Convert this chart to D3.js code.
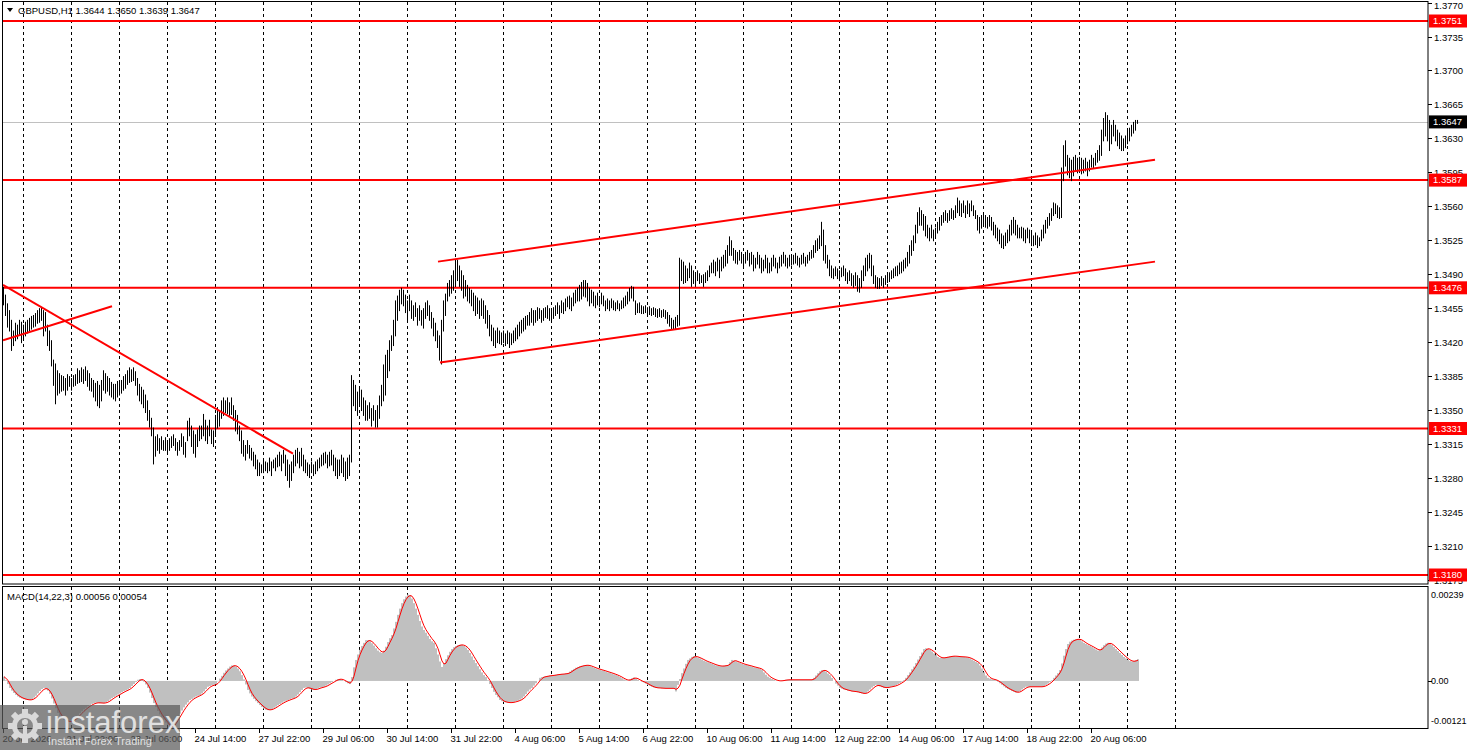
<!DOCTYPE html>
<html>
<head>
<meta charset="utf-8">
<script src="https://cdn.jsdelivr.net/npm/d3@7"></script>
<style>
  html, body { margin: 0; padding: 0; background: #fff; }
  svg { display: block; }
  text { font-family: "Liberation Sans", Arial, sans-serif; font-size: 9.5px; fill: #000; }
</style>
</head>
<body>
<svg id="chart" width="1468" height="750"></svg>
<script>
// GBPUSD H1 bars, in pips above 1.3000
const highs = [
  477,469,460,453,443,432,440,438,443,441,438,441,443,445,447,448,450,453,455,456,453,451,438,432,422,402,398,
  391,388,386,385,383,387,385,383,386,387,393,391,394,392,395,391,388,383,381,378,380,376,381,391,388,385,383,379,377,377,380,379,381,385,387,391,394,392,394,390,383,377,374,371,366,360,350,342,332,
  323,325,321,323,319,322,317,321,323,325,321,317,319,326,323,317,339,342,334,329,325,330,334,334,346,340,334,340,330,329,345,353,350,360,363,360,363,358,363,355,350,345,334,329,319,314,319,
  314,311,307,304,299,296,294,299,297,296,301,297,299,301,304,307,304,309,304,299,294,297,304,309,311,307,311,304,299,296,294,297,294,297,299,301,304,306,307,304,307,309,304,301,299,299,304,301,297,301,304,386,
  381,376,369,373,371,363,360,355,358,352,355,350,355,365,376,397,407,412,422,427,443,463,468,474,476,474,469,463,469,463,458,461,455,458,453,455,461,463,458,451,445,440,432,427,443,463,470,481,484,489,
  494,502,505,499,494,489,484,479,476,474,471,468,466,463,465,463,458,453,448,438,435,432,435,432,430,432,429,432,430,429,
  432,435,438,441,443,445,447,448,451,455,453,453,456,455,453,455,456,458,455,453,456,458,461,458,463,461,465,467,468,466,
  471,474,476,479,482,484,484,481,476,474,472,468,471,467,471,468,463,465,463,465,463,461,463,460,463,466,468,472,476,478,
  477,463,460,461,458,457,458,456,457,455,456,455,454,455,453,454,453,451,448,445,443,446,448,
  507,505,503,499,496,502,499,494,492,494,491,489,490,492,494,499,502,505,503,507,505,508,510,515,520,529,525,517,515,513,
  515,513,510,513,515,512,513,510,507,513,510,507,505,510,507,502,507,510,507,502,508,510,513,510,507,510,508,510,512,509,
  507,510,512,508,510,513,515,520,525,527,530,544,536,520,510,505,499,496,498,496,494,497,499,496,492,494,491,489,492,489,
  486,494,499,507,510,512,510,499,489,487,486,488,486,489,491,492,494,496,498,499,502,503,
  505,507,513,520,525,530,541,554,559,556,552,550,541,538,541,536,538,544,549,551,554,556,553,556,558,556,561,569,566,563,
  566,561,566,563,566,561,556,551,549,551,553,551,549,551,549,544,541,538,536,532,530,533,536,541,546,549,546,541,538,539,
  538,536,538,536,533,530,533,530,528,536,541,546,549,553,558,564,563,561,559,600,623,628,613,610,608,611,613,610,611,610,
  608,610,606,608,613,610,615,618,623,639,651,657,654,649,644,649,644,639,636,633,630,633,639,641,644,647,649,649
];
const lows = [
  459,448,436,432,412,417,422,424,428,420,424,427,430,432,434,436,437,440,441,443,427,432,417,412,396,376,357,
  366,368,370,371,366,371,375,371,375,376,378,379,380,378,381,375,371,370,364,360,355,353,360,371,368,370,366,364,362,360,364,366,368,371,373,377,379,380,381,376,366,360,357,353,348,340,333,324,295,
  303,309,306,310,309,309,305,309,312,314,309,304,309,313,305,302,319,324,313,306,302,313,319,321,324,319,316,324,316,313,324,332,334,342,345,348,347,345,346,340,329,326,319,306,303,299,306,
  301,299,293,290,283,283,286,286,288,286,288,283,291,288,292,293,288,296,283,278,271,278,286,293,296,291,293,288,286,283,281,286,283,285,288,291,293,294,296,291,293,294,288,283,280,283,286,282,278,280,283,297,
  355,350,345,355,350,345,340,340,342,334,340,333,333,342,355,360,366,384,391,412,417,427,443,453,460,458,451,443,453,445,443,447,438,443,438,435,445,448,443,435,427,422,415,402,398,432,448,463,468,471,
  474,478,484,478,474,466,468,463,461,458,453,448,450,445,448,445,440,435,427,422,417,415,420,419,418,420,417,419,415,418,
  420,422,424,427,430,432,434,438,438,441,438,441,443,445,441,443,446,445,443,441,445,448,450,445,451,450,453,457,455,453,
  458,461,463,463,465,468,467,463,458,461,458,456,459,457,460,458,453,455,453,456,454,453,455,453,455,456,458,460,463,466,
  463,449,451,451,450,450,451,448,449,448,449,447,446,447,446,447,445,440,437,434,434,434,437,
  438,484,481,482,484,487,478,481,481,484,481,482,478,482,484,488,492,492,489,494,487,494,497,499,502,510,510,505,502,501,
  505,502,499,502,505,499,501,494,497,501,497,492,494,497,492,492,494,499,497,492,497,499,502,499,497,499,500,501,502,500,
  498,501,502,499,502,505,507,508,513,515,517,520,505,502,497,489,487,486,489,486,484,488,489,484,481,484,479,477,479,473,
  472,477,484,489,494,497,489,481,477,476,476,479,477,480,482,483,486,487,489,489,491,492,
  494,497,499,502,510,515,523,533,541,541,536,530,528,525,528,525,528,533,536,541,544,546,544,546,548,547,549,554,551,550,
  554,549,553,550,556,551,548,536,533,538,541,539,538,540,536,531,528,525,522,518,517,520,523,525,531,533,531,528,528,528,
  525,523,528,523,520,520,521,518,520,525,528,533,538,541,546,551,553,549,548,549,587,602,593,590,587,592,597,595,597,594,
  595,597,592,597,601,600,603,606,608,613,628,633,628,618,625,633,628,623,620,618,618,621,625,628,633,636,639,646
];
// MACD(14,22,3) main values, units of 0.00001
const macd = [
  11,2,-8,-18,-25,-31,-36,-40,-43,-45, -47,-48,-49,-49,-47,-43,-38,-32,-26,-21,
  -18,-20,-25,-33,-45,-58,-70,-82,-90,-96, -100,-103,-105,-105,-103,-99,-94,-89,-83,-78,
  -73,-69,-65,-62,-59,-57,-56,-56,-57,-57, -57,-55,-52,-48,-44,-41,-38,-35,-32,-29,
  -26,-24,-22,-18,-13,-8,-3,3,5,3, -2,-9,-18,-30,-44,-57,-67,-77,-86,-94,
  -100,-107,-113,-121,-118,-110,-102,-94,-84,-76, -68,-61,-55,-49,-46,-43,-40,-38,-36,-32,
  -27,-21,-15,-13,-11,-10,-8,-1,6,13, 21,27,32,37,40,40,37,32,25,15,
  4,-9,-23,-32,-40,-46,-52,-57,-62,-67, -71,-74,-75,-74,-72,-69,-66,-62,-59,-56,
  -53,-51,-49,-47,-45,-44,-40,-35,-29,-23, -18,-17,-18,-20,-22,-23,-21,-19,-17,-16,
  -15,-12,-9,-6,-3,0,3,5,5,3, 0,-3,-6,-8,10,35,54,68,80,90,
  98,105,105,102,97,91,84,78,74,72, 78,88,100,110,118,135,152,170,186,200,
  210,217,222,220,212,200,186,170,154,140, 131,124,116,108,102,98,84,68,50,36,
  45,56,66,75,82,87,90,92,93,93, 90,86,80,72,63,54,46,38,30,22,
  15,10,2,-8,-18,-28,-36,-42,-49,-52, -54,-55,-56,-56,-55,-54,-52,-51,-48,-45,
  -40,-34,-27,-22,-18,-12,-6,0,8,10, 11,12,13,14,14,15,16,17,17,18,
  18,19,20,24,28,31,34,36,38,39, 40,41,40,38,36,34,32,30,29,27,
  26,24,22,21,19,17,15,13,10,7, 4,2,1,4,7,9,6,3,0,-2,
  -4,-7,-10,-13,-15,-17,-18,-18,-18,-19, -19,-19,-19,-19,-19,-19,-27,-10,5,20,
  32,44,54,58,62,64,62,60,58,55, 52,50,48,46,44,42,40,39,38,38,
  39,40,41,48,54,52,50,48,46,44, 42,41,40,38,37,35,34,33,31,28,
  22,16,11,8,5,3,1,0,0,1, 2,3,3,3,3,3,3,3,3,3,
  3,3,3,3,3,8,14,20,25,28, 28,24,19,15,8,0,-7,-12,-18,-20,
  -22,-23,-25,-26,-27,-27,-28,-29,-31,-32, -33,-31,-27,-22,-17,-13,-10,-12,-14,-16,
  -18,-17,-16,-15,-14,-13,-11,-8,-5,-2, 2,8,15,22,30,37,46,55,64,73,
  82,84,82,80,76,71,66,62,59,59, 60,61,62,63,64,64,63,63,62,62,
  62,61,60,58,55,52,49,46,40,32, 22,14,8,6,4,3,2,-2,-6,-10,
  -14,-18,-21,-23,-26,-28,-30,-29,-26,-22, -18,-15,-15,-15,-15,-15,-15,-15,-15,-15,
  -13,-10,-7,-3,2,8,14,20,28,45, 65,82,95,101,104,106,107,108,106,102,
  98,95,92,90,87,84,81,78,80,86, 92,96,98,96,92,87,82,77,72,67,
  62,58,54,51,50,51,53,56
];

const levels = [1.3751, 1.3587, 1.3476, 1.3331, 1.3180];
const lastPrice = 1.3647;
const priceTicks = ["1.3770","1.3735","1.3700","1.3665","1.3630","1.3595","1.3560","1.3525","1.3490",
  "1.3455","1.3420","1.3385","1.3350","1.3315","1.3280","1.3245","1.3210","1.3175"];
const macdTicks = ["0.00239", "0.00", "-0.00121"];
const dateLabels = ["20 Jul 2026","21 Jul 22:00","23 Jul 06:00","24 Jul 14:00","27 Jul 22:00","29 Jul 06:00",
  "30 Jul 14:00","31 Jul 22:00","4 Aug 06:00","5 Aug 14:00","6 Aug 22:00","10 Aug 06:00","11 Aug 14:00",
  "12 Aug 22:00","14 Aug 06:00","17 Aug 14:00","18 Aug 22:00","20 Aug 06:00"];
const labelStep = 32;      // bars between time labels
const firstDayBar = 10;    // 21 Jul 00:00
const lastGridBar = 586;
// trend lines: [bar index, price] pairs
const trendLines = [
  [[0, 1.3479], [145, 1.3305]],
  [[0, 1.3422], [54.5, 1.3457]],
  [[218.5, 1.3399], [576, 1.3503]],
  [[217.5, 1.3503], [576, 1.3608]]
];

const svg = d3.select("#chart");
const left = 3, right = 1428;
const mainTop = 2, mainBottom = 584, macdTop = 587, macdBottom = 729;
const n = Math.min(highs.length, lows.length, macd.length);
const px = v => 1.3 + v / 10000;

const x = d3.scaleLinear().domain([0, 1]).range([left, left + 2]);
const y = d3.scaleLinear().domain([1.3180, 1.3751]).range([575, 21]);
const ym = d3.scaleLinear().domain([-0.00121, 0.00239]).range([728, 588]);

const defs = svg.append("defs");
defs.append("clipPath").attr("id", "clipMain")
  .append("rect").attr("x", left).attr("y", mainTop).attr("width", right - left).attr("height", mainBottom - mainTop);
defs.append("clipPath").attr("id", "clipMacd")
  .append("rect").attr("x", left).attr("y", macdTop).attr("width", right - left).attr("height", macdBottom - macdTop);

// vertical day grid
const gridBars = d3.range(firstDayBar, lastGridBar + 1, 24);
const grid = svg.append("g");
[[mainTop, mainBottom], [macdTop, macdBottom]].forEach(([t, b]) => {
  grid.selectAll(null).data(gridBars).enter().append("line")
    .attr("x1", d => Math.round(x(d)) + 0.5).attr("x2", d => Math.round(x(d)) + 0.5)
    .attr("y1", t).attr("y2", b)
    .attr("stroke", "#000").attr("stroke-width", 1).attr("stroke-dasharray", "3,3");
});

const main = svg.append("g").attr("clip-path", "url(#clipMain)");

// bid line
main.append("line")
  .attr("x1", left).attr("x2", right)
  .attr("y1", Math.round(y(lastPrice)) + 0.5).attr("y2", Math.round(y(lastPrice)) + 0.5)
  .attr("stroke", "#c0c0c0");

// horizontal levels
main.selectAll(".level").data(levels).enter().append("line")
  .attr("class", "level")
  .attr("x1", left).attr("x2", right)
  .attr("y1", d => y(d)).attr("y2", d => y(d))
  .attr("stroke", "#ff0000").attr("stroke-width", 2);

// bars
main.selectAll(".bar").data(d3.range(n)).enter().append("line")
  .attr("class", "bar")
  .attr("x1", i => x(i) + 0.5).attr("x2", i => x(i) + 0.5)
  .attr("y1", i => y(px(highs[i]))).attr("y2", i => y(px(lows[i])) + 1)
  .attr("stroke", "#000").attr("stroke-width", 1);

// trend lines
main.selectAll(".trend").data(trendLines).enter().append("line")
  .attr("class", "trend")
  .attr("x1", d => x(d[0][0])).attr("y1", d => y(d[0][1]))
  .attr("x2", d => x(d[1][0])).attr("y2", d => y(d[1][1]))
  .attr("stroke", "#ff0000").attr("stroke-width", 2);

// MACD
const sub = svg.append("g").attr("clip-path", "url(#clipMacd)");
const macdVals = macd.slice(0, n).map(v => v / 100000);
const signal = macdVals.map((v, i) => d3.mean(macdVals.slice(Math.max(0, i - 2), i + 1)));
sub.selectAll(".hist").data(macdVals).enter().append("rect")
  .attr("class", "hist")
  .attr("x", (d, i) => x(i))
  .attr("width", 2)
  .attr("y", d => Math.min(ym(0), ym(d)))
  .attr("height", d => Math.abs(ym(d) - ym(0)))
  .attr("fill", "#c0c0c0");
sub.append("path")
  .datum(signal)
  .attr("d", d3.line().x((d, i) => x(i) + 1).y(d => ym(d)))
  .attr("fill", "none").attr("stroke", "#ff0000").attr("stroke-width", 1);

// frames
const frame = svg.append("g").attr("fill", "none").attr("stroke", "#000");
frame.append("rect").attr("x", left - 0.5).attr("y", mainTop - 0.5)
  .attr("width", right - left + 0.5).attr("height", mainBottom - mainTop + 0.5);
frame.append("rect").attr("x", left - 0.5).attr("y", macdTop - 0.5)
  .attr("width", right - left + 0.5).attr("height", macdBottom - macdTop);

// price axis
const axis = svg.append("g");
priceTicks.forEach(t => {
  const yy = Math.round(y(+t)) + 0.5;
  axis.append("line").attr("x1", right).attr("x2", right + 4).attr("y1", yy).attr("y2", yy).attr("stroke", "#000");
  axis.append("text").attr("x", right + 6).attr("y", Math.max(yy, 6)).attr("dy", "0.35em").text(t);
});
levels.forEach(l => {
  const yy = y(l);
  axis.append("rect").attr("x", right + 1).attr("y", yy - 6.5).attr("width", 38).attr("height", 13).attr("fill", "#ff0000");
  axis.append("text").attr("x", right + 5).attr("y", yy).attr("dy", "0.35em").style("fill", "#fff").text(l.toFixed(4));
});
axis.append("rect").attr("x", right + 1).attr("y", y(lastPrice) - 6.5).attr("width", 38).attr("height", 13).attr("fill", "#000");
axis.append("text").attr("x", right + 5).attr("y", y(lastPrice)).attr("dy", "0.35em").style("fill", "#fff").text(lastPrice.toFixed(4));

// MACD axis
const macdTickY = [595, ym(0), 721];
macdTicks.forEach((t, k) => {
  if (k === 1) {
    axis.append("line").attr("x1", right).attr("x2", right + 4)
      .attr("y1", Math.round(ym(0)) + 0.5).attr("y2", Math.round(ym(0)) + 0.5).attr("stroke", "#000");
  }
  axis.append("text").attr("x", right + 3).attr("y", macdTickY[k]).attr("dy", "0.35em")
    .style("font-size", "9px").text(t);
});

// time axis
dateLabels.forEach((lab, k) => {
  const xx = Math.round(x(k * labelStep)) + 0.5;
  axis.append("line").attr("x1", xx).attr("x2", xx).attr("y1", macdBottom).attr("y2", macdBottom + 4).attr("stroke", "#000");
  axis.append("text").attr("x", xx - 1).attr("y", 739).attr("dy", "0.35em").text(lab);
});

// titles
svg.append("path").attr("d", "M7,8 L13,8 L10,12 Z").attr("fill", "#000");
svg.append("text").attr("x", 18).attr("y", 11).attr("dy", "0.35em").text("GBPUSD,H1  1.3644 1.3650 1.3639 1.3647");
svg.append("text").attr("x", 7).attr("y", 597).attr("dy", "0.35em").text("MACD(14,22,3) 0.00056 0.00054");

// watermark
const logo = svg.append("g");
logo.append("rect").attr("x", 0).attr("y", 705).attr("width", 180).attr("height", 45)
  .attr("fill", "#5a5a5a").attr("opacity", 0.72);
const gc = [25, 726];
const gear = logo.append("g").attr("transform", `translate(${gc[0]},${gc[1]})`).attr("fill", "#d9d9d9");
d3.range(8).forEach(k => {
  gear.append("rect").attr("x", -3).attr("y", -17).attr("width", 6).attr("height", 7)
    .attr("transform", `rotate(${k * 45})`);
});
gear.append("path").attr("d", d3.arc().innerRadius(8).outerRadius(13).startAngle(0).endAngle(2 * Math.PI)());
gear.append("circle").attr("cx", 0).attr("cy", -4).attr("r", 3);
gear.append("rect").attr("x", -2).attr("y", 0).attr("width", 4).attr("height", 13);
logo.append("text").attr("x", 46).attr("y", 733)
  .style("font-size", "31px").style("fill", "#e0e0e0").text("instaforex");
logo.append("text").attr("x", 48).attr("y", 745)
  .style("font-size", "11px").style("fill", "#e0e0e0").text("Instant Forex Trading");
</script>
</body>
</html>
